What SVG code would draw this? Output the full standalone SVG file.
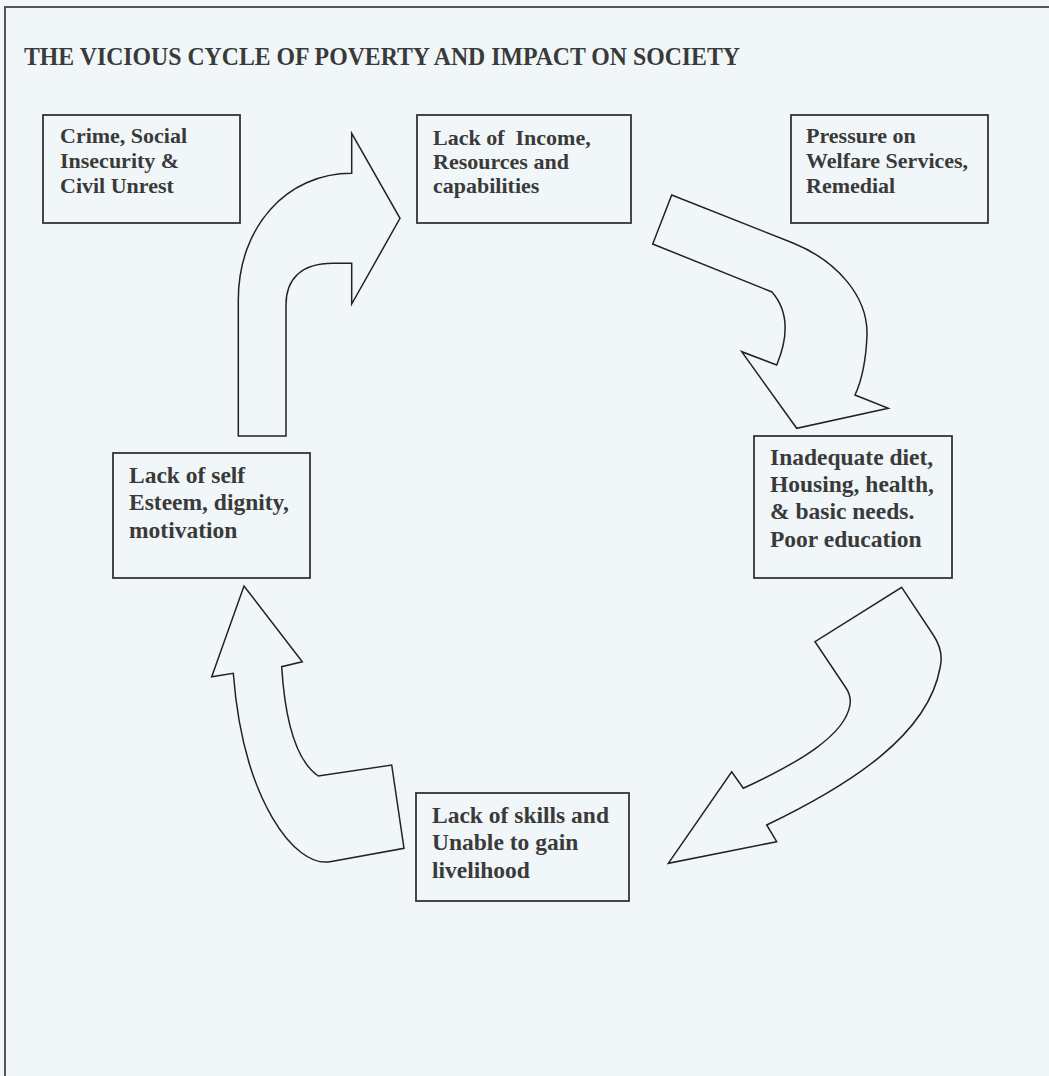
<svg xmlns="http://www.w3.org/2000/svg" width="1049" height="1076" viewBox="0 0 1049 1076">
<style>
  .bg { fill: #f1f7f9; }
  .frame { stroke: #555; stroke-width: 2; fill: none; }
  .box { fill: none; stroke: #333; stroke-width: 1.8; }
  .arrow { fill: none; stroke: #222; stroke-width: 1.5; stroke-linejoin: miter; }
  .t { font-family: "Liberation Serif", "Times New Roman", serif; font-weight: bold; fill: #3a3a3a; }
  .top { font-size: 22px; }
  .low { font-size: 23.5px; }
  .title { font-size: 25.5px; }
</style>
<rect class="bg" x="0" y="0" width="1049" height="1076"/>
<path class="frame" d="M5,1076 L5,7 L1049,7"/>
<text class="t title" x="24" y="65" textLength="716" lengthAdjust="spacingAndGlyphs">THE VICIOUS CYCLE OF POVERTY AND IMPACT ON SOCIETY</text>

<g id="node-crime">
  <rect class="box" x="43" y="115" width="197" height="108"/>
  <text class="t top" x="60"><tspan x="60" y="143">Crime, Social</tspan><tspan x="60" y="168">Insecurity &amp;</tspan><tspan x="60" y="193">Civil Unrest</tspan></text>
</g>
<g id="node-income">
  <rect class="box" x="417" y="115" width="214" height="108"/>
  <text class="t top" x="433" xml:space="preserve"><tspan x="433" y="145">Lack of  Income,</tspan><tspan x="433" y="169">Resources and</tspan><tspan x="433" y="193">capabilities</tspan></text>
</g>
<g id="node-welfare">
  <rect class="box" x="791" y="115" width="197" height="108"/>
  <text class="t top" x="806"><tspan x="806" y="143">Pressure on</tspan><tspan x="806" y="168">Welfare Services,</tspan><tspan x="806" y="193">Remedial</tspan></text>
</g>
<g id="node-diet">
  <rect class="box" x="754" y="436" width="198" height="142"/>
  <text class="t low" x="770"><tspan x="770" y="465">Inadequate diet,</tspan><tspan x="770" y="492">Housing, health,</tspan><tspan x="770" y="519">&amp; basic needs.</tspan><tspan x="770" y="547">Poor education</tspan></text>
</g>
<g id="node-esteem">
  <rect class="box" x="113" y="453" width="197" height="125"/>
  <text class="t low" x="129"><tspan x="129" y="483">Lack of self</tspan><tspan x="129" y="510">Esteem, dignity,</tspan><tspan x="129" y="538">motivation</tspan></text>
</g>
<g id="node-skills">
  <rect class="box" x="416" y="793" width="213" height="108"/>
  <text class="t low" x="432"><tspan x="432" y="823">Lack of skills and</tspan><tspan x="432" y="850">Unable to gain</tspan><tspan x="432" y="878">livelihood</tspan></text>
</g>

<g id="connectors">
  <path class="arrow" d="M238.3,436 L238.3,300 C238.3,226.7 286.7,173.3 351.7,173.3 L351.7,133.3 L400,218.3 L351.7,304 L351.7,263.3 L333,263.3 C300,263.3 286,280 286,305 L286,436 Z"/>
  <path class="arrow" d="M671.7,195 L793,243 C835,260 868,295 867,335 C866,360 862,380 855,395 L888.3,408.3 L796.7,428.3 L741.7,351.7 L776.7,365 C785,345 792,315 772,292 L652.7,244 Z"/>
  <path class="arrow" d="M901.7,587.3 L933.3,635 C942,648 942,660 940,668 C928,735 850,785 766.7,825 L776.7,841.7 L668.3,863.3 L731.7,771.7 L743.3,788.3 C800,762 845,735 850,705 C851,698 850,694 846,688 L815,641.7 Z"/>
  <path class="arrow" d="M391.7,765 L404,848.3 L330,861.7 C295,868 243,800 233.3,673.3 L211.7,676.7 L244,586 L302.3,661.7 L281.7,666.7 C285,720 295,760 318.3,776 Z"/>
</g>
</svg>
